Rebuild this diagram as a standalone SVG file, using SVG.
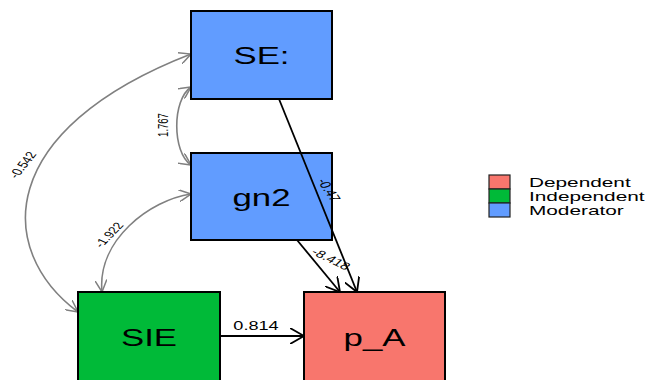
<svg xmlns="http://www.w3.org/2000/svg" width="663" height="380" viewBox="0 0 663 380">
  <style>
    .node { stroke: #000; stroke-width: 2; }
    .dep { fill: #F8766D; }
    .ind { fill: #00BA38; }
    .mod { fill: #619CFF; }
    .ntext { font-family: "Liberation Sans", Arial, sans-serif; font-size: 24px; fill: #000; text-anchor: middle; }
    .elab { font-family: "Liberation Sans", Arial, sans-serif; fill: #000; text-anchor: middle; dominant-baseline: central; }
    .reg { fill: none; stroke: #000; stroke-width: 1.8; }
    .cov { fill: none; stroke: #808080; stroke-width: 1.6; }
    .leg { font-family: "Liberation Sans", Arial, sans-serif; font-size: 13px; fill: #000; }
  </style>
  <defs>
    <marker id="arrBlack" viewBox="0 0 14 16" refX="14" refY="8" markerWidth="14" markerHeight="16" markerUnits="userSpaceOnUse" orient="auto-start-reverse">
      <path d="M0,0 L14,8 L0,16" fill="none" stroke="#000" stroke-width="1.8"/>
    </marker>
    <marker id="arrGray" viewBox="0 0 12 12" refX="12" refY="6" markerWidth="12" markerHeight="12" markerUnits="userSpaceOnUse" orient="auto-start-reverse">
      <path d="M0,0 L12,6 L0,12" fill="none" stroke="#808080" stroke-width="1.5"/>
    </marker>
  </defs>

  <rect width="663" height="380" fill="#fff"/>

  <!-- connectors -->
  <g id="edges">
    <path class="cov" d="M78,312 C-5,250 -5,130 191,54" marker-start="url(#arrGray)" marker-end="url(#arrGray)"/>
    <path class="cov" d="M191,87 C172,100 172,152 191,165" marker-start="url(#arrGray)" marker-end="url(#arrGray)"/>
    <path class="cov" d="M102,292 C97,240 150,200 191,194" marker-start="url(#arrGray)" marker-end="url(#arrGray)"/>
    <line class="reg" x1="220" y1="336" x2="304" y2="336" marker-end="url(#arrBlack)"/>
  </g>

  <!-- nodes -->
  <g id="node-SE">
    <rect class="node mod" x="191" y="11" width="141" height="88"/>
    <text class="ntext" transform="translate(261.5,64) scale(1.45,1)">SE:</text>
  </g>
  <g id="node-gn2">
    <rect class="node mod" x="191" y="153" width="141" height="87"/>
    <text class="ntext" transform="translate(261.5,205.5) scale(1.45,1)">gn2</text>
  </g>
  <g id="node-SIE">
    <rect class="node ind" x="78" y="292" width="142" height="90"/>
    <text class="ntext" transform="translate(149,345.5) scale(1.45,1)">SIE</text>
  </g>
  <g id="node-pA">
    <rect class="node dep" x="304" y="292" width="141" height="90"/>
    <text class="ntext" transform="translate(374.5,345.5) scale(1.45,1)">p_A</text>
  </g>

  <!-- regression paths drawn over boxes -->
  <g id="edges-over">
    <line class="reg" x1="279" y1="99" x2="357" y2="292" marker-end="url(#arrBlack)"/>
    <line class="reg" x1="297" y1="240" x2="340" y2="292" marker-end="url(#arrBlack)"/>
  </g>

  <!-- edge labels -->
  <g id="edge-labels">
    <text class="elab" font-size="10" transform="translate(23,165) scale(1.45,1) rotate(-61)">-0.542</text>
    <text class="elab" font-size="9.5" transform="translate(163,125) scale(1.45,1) rotate(-90)">1.767</text>
    <text class="elab" font-size="9.7" transform="translate(109,235) scale(1.45,1) rotate(-56)">-1.922</text>
    <text class="elab" font-size="10.5" transform="translate(329,190) scale(1.45,1) rotate(65)">-0.47</text>
    <text class="elab" font-size="10.5" transform="translate(331,259) scale(1.45,1) rotate(35)">-8.418</text>
    <text class="elab" font-size="12.5" transform="translate(256,326) scale(1.45,1)">0.814</text>
  </g>

  <!-- legend -->
  <g id="legend">
    <rect class="dep" x="489" y="175" width="21" height="14" stroke="#222" stroke-width="1.2"/>
    <rect class="ind" x="489" y="189" width="21" height="14" stroke="#222" stroke-width="1.2"/>
    <rect class="mod" x="489" y="203" width="21" height="14" stroke="#222" stroke-width="1.2"/>
    <text class="leg" transform="translate(529,187) scale(1.6,1)">Dependent</text>
    <text class="leg" transform="translate(529,201) scale(1.6,1)">Independent</text>
    <text class="leg" transform="translate(529,214.5) scale(1.6,1)">Moderator</text>
  </g>
</svg>
